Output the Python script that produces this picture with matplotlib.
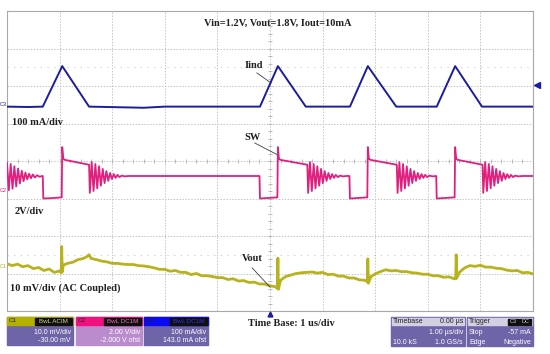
import matplotlib
matplotlib.use('Agg')
import matplotlib.pyplot as plt
from matplotlib.patches import Rectangle

# screen units: x in divisions (1 us/div), y in divisions (0 = bottom, 8 = top)
iind_t = [0.0, 0.40, 0.68, 1.05, 1.56, 2.60, 3.00, 4.81, 5.15, 5.68, 6.52, 6.86, 7.40, 8.17, 8.52, 9.03, 10.0]
iind_v = [5.45, 5.44, 5.45, 6.53, 5.45, 5.42, 5.45, 5.45, 6.53, 5.45, 5.45, 6.53, 5.45, 5.45, 6.53, 5.45, 5.45]

sw_t = [0.00, 0.035, 0.07, 0.105, 0.14, 0.175, 0.21, 0.245, 0.28, 0.315, 0.35, 0.385, 0.42, 0.455, 0.49, 0.53, 0.57, 0.62, 0.67, 0.68,
        0.69, 0.85, 1.04,
        1.05, 1.07, 1.10, 1.56,
        1.575, 1.61, 1.645, 1.68, 1.715, 1.75, 1.785, 1.82, 1.855, 1.89, 1.925, 1.96, 1.995, 2.03, 2.065, 2.10, 2.14, 2.18, 2.24, 2.30, 4.80,
        4.81, 5.14,
        5.15, 5.17, 5.20, 5.71,
        5.725, 5.76, 5.795, 5.83, 5.865, 5.90, 5.935, 5.97, 6.005, 6.04, 6.075, 6.11, 6.145, 6.18, 6.215, 6.25, 6.29, 6.33, 6.39, 6.45, 6.51,
        6.52, 6.85,
        6.86, 6.88, 6.91, 7.41,
        7.425, 7.46, 7.495, 7.53, 7.565, 7.60, 7.635, 7.67, 7.705, 7.74, 7.775, 7.81, 7.845, 7.88, 7.915, 7.95, 7.99, 8.03, 8.09, 8.16,
        8.17, 8.51,
        8.52, 8.54, 8.57, 9.04,
        9.055, 9.09, 9.125, 9.16, 9.195, 9.23, 9.265, 9.30, 9.335, 9.37, 9.405, 9.44, 9.475, 9.51, 9.545, 9.58, 9.62, 9.66, 9.72, 9.80, 10.0]
sw_v = [3.95, 3.22, 3.92, 3.26, 3.86, 3.32, 3.80, 3.40, 3.74, 3.46, 3.69, 3.51, 3.66, 3.54, 3.64, 3.56, 3.62, 3.58, 3.60, 3.60,
        3.00, 3.01, 3.03,
        4.37, 4.06, 4.03, 3.90,
        3.15, 3.97, 3.20, 3.92, 3.27, 3.86, 3.34, 3.79, 3.41, 3.73, 3.47, 3.68, 3.52, 3.65, 3.55, 3.63, 3.57, 3.61, 3.59, 3.60, 3.60,
        3.00, 3.03,
        4.37, 4.06, 4.03, 3.90,
        3.15, 3.97, 3.20, 3.92, 3.27, 3.86, 3.34, 3.79, 3.41, 3.73, 3.47, 3.68, 3.52, 3.65, 3.55, 3.63, 3.57, 3.61, 3.59, 3.60, 3.60,
        3.00, 3.03,
        4.37, 4.06, 4.03, 3.90,
        3.15, 3.97, 3.20, 3.92, 3.27, 3.86, 3.34, 3.79, 3.41, 3.73, 3.47, 3.68, 3.52, 3.65, 3.55, 3.63, 3.57, 3.61, 3.59, 3.60,
        3.00, 3.03,
        4.37, 4.06, 4.03, 3.90,
        3.15, 3.97, 3.20, 3.92, 3.27, 3.86, 3.34, 3.79, 3.41, 3.73, 3.47, 3.68, 3.52, 3.65, 3.55, 3.63, 3.57, 3.61, 3.59, 3.60, 3.60]

vout_t = [0.00, 0.10, 0.20, 0.30, 0.40, 0.50, 0.60, 0.70, 0.80, 0.90, 1.00, 1.03, 1.04, 1.05, 1.07, 1.15, 1.25, 1.35, 1.45, 1.52,
          1.56, 1.60, 1.70, 1.80, 1.90, 2.00, 2.10, 2.20, 2.30, 2.40, 2.50, 2.60, 2.70, 2.80, 2.90, 3.00, 3.10, 3.20, 3.30, 3.40,
          3.50, 3.60, 3.70, 3.80, 3.90, 4.00, 4.10, 4.20, 4.30, 4.40, 4.50, 4.60, 4.70, 4.80, 4.90, 5.00, 5.10, 5.14, 5.15, 5.16,
          5.20, 5.30, 5.40, 5.50, 5.60, 5.70, 5.80, 5.90, 6.00, 6.10, 6.20, 6.30, 6.40, 6.50, 6.60, 6.70, 6.80, 6.85, 6.86, 6.87,
          6.92, 7.00, 7.10, 7.20, 7.30, 7.40, 7.50, 7.60, 7.70, 7.80, 7.90, 8.00, 8.10, 8.20, 8.30, 8.40, 8.50, 8.53, 8.54, 8.55,
          8.60, 8.70, 8.80, 8.90, 9.00, 9.10, 9.20, 9.30, 9.40, 9.50, 9.60, 9.70, 9.80, 9.90, 10.0]
vout_v = [1.26, 1.21, 1.25, 1.18, 1.21, 1.13, 1.16, 1.08, 1.12, 1.03, 1.07, 1.02, 1.72, 1.04, 1.22, 1.27, 1.30, 1.37, 1.40, 1.45,
          1.50, 1.40, 1.37, 1.33, 1.31, 1.27, 1.27, 1.25, 1.24, 1.24, 1.21, 1.20, 1.18, 1.15, 1.11, 1.11, 1.06, 1.08, 1.03, 1.03,
          0.97, 1.00, 0.94, 0.94, 0.92, 0.89, 0.89, 0.84, 0.86, 0.80, 0.81, 0.76, 0.77, 0.72, 0.72, 0.67, 0.65, 0.60, 1.41, 0.58,
          0.82, 0.92, 0.96, 1.00, 1.02, 1.03, 1.04, 1.01, 1.03, 0.97, 0.98, 0.93, 0.93, 0.88, 0.88, 0.83, 0.82, 0.78, 1.39, 0.74,
          0.92, 0.99, 1.05, 1.10, 1.07, 1.08, 1.05, 1.05, 1.02, 1.01, 0.98, 0.98, 0.94, 0.94, 0.90, 0.91, 0.86, 0.86, 1.50, 0.88,
          1.03, 1.15, 1.21, 1.19, 1.22, 1.17, 1.17, 1.14, 1.13, 1.09, 1.07, 1.08, 1.02, 1.03, 0.99]

serif = 'Liberation Serif'
sans = 'Liberation Sans'

fig = plt.figure(figsize=(5.5, 3.54), dpi=100)
fig.patch.set_facecolor('white')
W, H = 550, 354
ax = fig.add_axes([7 / W, 1 - 311 / H, 526 / W, 300 / H])
ax.set_xlim(0, 10)
ax.set_ylim(0, 8)
ax.set_xticks([])
ax.set_yticks([])
for s in ax.spines.values():
    s.set_color('#a8a8a8')
    s.set_linewidth(0.8)

# graticule
for i in range(1, 10):
    ax.axvline(i, color='#c4c4c4', lw=0.7, ls=(0, (1.5, 1.5)), zorder=0)
for j in range(1, 8):
    ax.axhline(j, color='#c4c4c4', lw=0.7, ls=(0, (1.5, 1.5)), zorder=0)
ax.axhline(6.5, color='#c8c8c8', lw=0.8, ls=(0, (1, 5)), zorder=0)
ax.axhline(1.5, color='#c8c8c8', lw=0.8, ls=(0, (1, 5)), zorder=0)
ticks = [k / 5 for k in range(1, 50)]
ax.plot(ticks, [4] * len(ticks), ls='none', marker='|', ms=3, mew=0.6, color='#b0b0b0', zorder=0)
yticks = [k / 5 for k in range(1, 40)]
ax.plot([5] * len(yticks), yticks, ls='none', marker='_', ms=3, mew=0.6, color='#b0b0b0', zorder=0)

# traces
ax.plot(vout_t, vout_v, color='#b7b31e', lw=2.0, zorder=2)
ax.plot(sw_t, sw_v, color='#e0207f', lw=1.3, zorder=3)
ax.plot(iind_t, iind_v, color='#1c1ca0', lw=1.4, zorder=4)

# annotations
bold = dict(family=serif, weight='bold', fontsize=7.5, color='#202020')
ax.text(5.15, 7.68, 'Vin=1.2V, Vout=1.8V, Iout=10mA', ha='center', va='center', **bold)
ax.text(4.52, 6.55, 'Iind', ha='left', va='center', **bold)
ax.plot([4.75, 5.02], [6.35, 6.08], color='#404040', lw=0.6)
ax.text(0.10, 5.02, '100 mA/div', ha='left', va='center', **bold)
ax.text(4.52, 4.64, 'SW', ha='left', va='center', **bold)
ax.plot([4.71, 5.15], [4.48, 4.16], color='#404040', lw=0.6)
ax.text(0.15, 2.64, '2V/div', ha='left', va='center', **bold)
ax.text(4.47, 1.41, 'Vout', ha='left', va='center', **bold)
ax.plot([4.66, 5.0], [1.15, 0.64], color='#404040', lw=0.6)
ax.text(0.06, 0.61, '10 mV/div (AC Coupled)', ha='left', va='center', **bold)

# overlay in pixel coordinates
ov = fig.add_axes([0, 0, 1, 1])
ov.set_xlim(0, W)
ov.set_ylim(H, 0)
ov.axis('off')
ov.patch.set_alpha(0)

ov.text(0, 104, 'C3', color='#1c1ca0', fontsize=4, family=sans, va='center', ha='left')
ov.text(0, 190, 'C2', color='#e0207f', fontsize=4, family=sans, va='center', ha='left')
ov.text(0, 266, 'C1', color='#b7b31e', fontsize=4, family=sans, va='center', ha='left')
ov.plot([537], [85], marker='<', ms=4, color='#1c1ca0', clip_on=False)
ov.plot([270], [313.5], marker='^', ms=3.5, color='#1c1ca0')

ov.text(291, 324, 'Time Base: 1 us/div', ha='center', va='center', **bold)

body = '#6e64a8'
small = dict(family=sans, fontsize=5, color='white')


def chan_box(x0, x1, head, fill, name, tag, tagcol, l1, l2):
    ov.add_patch(Rectangle((x0, 317), x1 - x0, 28, color=fill))
    ov.add_patch(Rectangle((x0, 317), x1 - x0, 8, color=head))
    ov.add_patch(Rectangle((x1 - 38, 318), 37, 6.5, color='#101010'))
    ov.text(x0 + 2, 321, name, ha='left', va='center', family=sans, fontsize=4.5, color='#202020')
    ov.text(x1 - 19.5, 321.3, tag, ha='center', va='center', family=sans, fontsize=4.5, color=tagcol)
    ov.text(x1 - 2, 332, l1, ha='right', va='center', **small)
    ov.text(x1 - 2, 341, l2, ha='right', va='center', **small)


chan_box(7, 73, '#b3b000', body, 'C1', 'BwL ACIM', '#d8d890', '10.0 mV/div', '-30.00 mV')
chan_box(76, 142, '#f0107f', '#bb8ccd', 'C2', 'BwL DC1M', '#f070b0', '2.00 V/div', '-2.000 V ofst')
chan_box(144, 208, '#0a0af0', body, 'C3', 'BwL DC1M', '#3030ff', '100 mA/div', '143.0 mA ofst')

# timebase and trigger
ov.add_patch(Rectangle((391, 317), 74, 29, color=body))
ov.add_patch(Rectangle((392, 318), 72, 7, color='#d4d0e4'))
ov.text(393, 321.5, 'Timebase', ha='left', va='center', family=sans, fontsize=5, color='#202020')
ov.text(463, 321.5, '0.00 \u00b5s', ha='right', va='center', family=sans, fontsize=5, color='#202020')
ov.text(463, 333, '1.00 \u00b5s/div', ha='right', va='center', **small)
ov.text(393, 342, '10.0 kS', ha='left', va='center', **small)
ov.text(463, 342, '1.0 GS/s', ha='right', va='center', **small)

ov.add_patch(Rectangle((467, 317), 66, 29, color=body))
ov.add_patch(Rectangle((468, 318), 64, 7, color='#d4d0e4'))
ov.text(469, 321.5, 'Trigger', ha='left', va='center', family=sans, fontsize=5, color='#202020')
ov.add_patch(Rectangle((508, 318.5), 11, 6, color='#101010'))
ov.add_patch(Rectangle((520, 318.5), 11, 6, color='#101010'))
ov.text(513.5, 321.5, 'C3', ha='center', va='center', family=sans, fontsize=4, color='#d0d0d0')
ov.text(525.5, 321.5, 'DC', ha='center', va='center', family=sans, fontsize=4, color='#d0d0d0')
ov.text(469, 333, 'Stop', ha='left', va='center', **small)
ov.text(531, 333, '-57 mA', ha='right', va='center', **small)
ov.text(469, 342, 'Edge', ha='left', va='center', **small)
ov.text(531, 342, 'Negative', ha='right', va='center', **small)

fig.savefig('out.png', dpi=100, facecolor='white')
